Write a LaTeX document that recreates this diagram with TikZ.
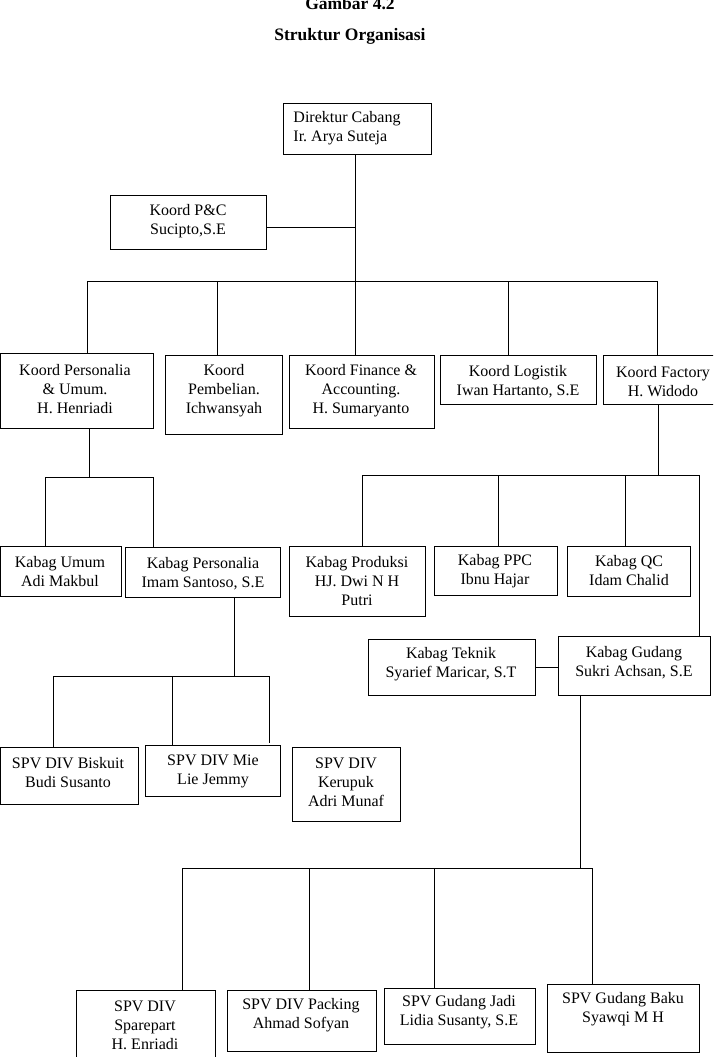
\documentclass[tikz,border=0pt]{standalone}
\usepackage{fontspec}
\setmainfont{Liberation Serif}
\frenchspacing
\newcommand{\orgbox}[8]{%
  \node[boxst, minimum width={#4pt-#2pt}, minimum height={#5pt-#3pt}] (#1) at (#2,#3) {};
  \node[txt] (#1t) at (#6,#7) {#8};}
\begin{document}
\begin{tikzpicture}[x=1pt,y=-1pt, line width=0.9pt,
  boxst/.style={draw, rectangle, inner sep=0pt, outer sep=0pt, anchor=north west},
  txt/.style={align=center, inner sep=0pt, font=\fontsize{16}{19}\selectfont},
  ttl/.style={font=\bfseries\fontsize{17.5}{20}\selectfont, anchor=base, inner sep=0pt}]
\useasboundingbox (0,0) rectangle (713,1057);
\clip (0,0) rectangle (713,1057);
% titles
\node[ttl] (t1) at (350,9.5) {Gambar 4.2};
\node[ttl] (t2) at (350,41) {Struktur Organisasi};
% director
\node[boxst, minimum width=148pt, minimum height=51pt] (dir) at (283,103) {};
\node[txt, align=left, anchor=west] (dirt) at (293,128.5) {Direktur Cabang\\Ir. Arya Suteja};
\orgbox{pc}{110}{195}{266}{249}{188}{221.5}{Koord P\&C\\Sucipto,S.E}
% koord row
\orgbox{kp}{0.6}{353}{153}{428}{75}{389}{Koord Personalia\\\& Umum.\\H. Henriadi}
\orgbox{kpb}{165}{355}{282}{434}{224}{391}{Koord\\Pembelian.\\Ichwansyah}
\orgbox{kf}{289}{355}{434}{428}{361}{391}{Koord Finance \&\\Accounting.\\H. Sumaryanto}
\orgbox{kl}{440}{355}{596}{404}{518}{381.5}{Koord Logistik\\Iwan Hartanto, S.E}
\orgbox{kfa}{603}{355}{722}{404}{663}{381.5}{Koord Factory\\H. Widodo}
% kabag row
\orgbox{ku}{0.6}{546}{121}{596}{60}{571.5}{Kabag Umum\\Adi Makbul}
\orgbox{kbp}{125}{547}{280}{597}{203}{573.5}{Kabag Personalia\\Imam Santoso, S.E}
\orgbox{kpr}{289}{546}{425}{616}{357}{581}{Kabag Produksi\\HJ. Dwi N H\\Putri}
\orgbox{kppc}{434}{546}{557}{595}{495}{571.5}{Kabag PPC\\Ibnu Hajar}
\orgbox{kqc}{567}{546}{690}{596}{629}{571}{Kabag QC\\Idam Chalid}
\orgbox{kt}{368}{639}{535}{695}{451}{664.5}{Kabag Teknik\\Syarief Maricar, S.T}
\orgbox{kg}{558}{636}{710}{695}{634}{662.5}{Kabag Gudang\\Sukri Achsan, S.E}
% spv under personalia
\orgbox{sb}{0.6}{747}{138}{804}{68}{772.5}{SPV DIV Biskuit\\Budi Susanto}
\orgbox{sm}{145}{745}{280}{796}{213}{771.5}{SPV DIV Mie\\Lie Jemmy}
\orgbox{sk}{292}{747}{400}{821}{346}{782}{SPV DIV\\Kerupuk\\Adri Munaf}
% spv under gudang
\orgbox{ss}{76}{990}{215}{1070}{145}{1025}{SPV DIV\\Sparepart\\H. Enriadi}
\orgbox{sp}{227}{990}{376}{1051}{301}{1015.5}{SPV DIV Packing\\Ahmad Sofyan}
\orgbox{sgj}{384}{988}{535}{1044}{459}{1012.5}{SPV Gudang Jadi\\Lidia Susanty, S.E}
\orgbox{sgb}{547}{984}{699}{1052}{623}{1009.5}{SPV Gudang Baku\\Syawqi M H}
% connectors: top
\coordinate (j0) at (355.5,281);
\draw (dir.south -| j0) -- (j0);
\draw ([yshift=-5pt]pc.east) -- ([yshift=-5pt]pc.east -| j0);
\coordinate (b1) at (87,281);
\coordinate (b2) at (217,281);
\coordinate (b4) at (508,281);
\coordinate (b5) at (657.5,281);
\draw (b1) -- (b5);
\draw (b1) -- (b1 |- kp.north);
\draw (b2) -- (b2 |- kpb.north);
\draw (j0) -- (j0 |- kf.north);
\draw (b4) -- (b4 |- kl.north);
\draw (b5) -- (b5 |- kfa.north);
% personalia branch
\coordinate (p0) at (89,477);
\coordinate (p1) at (45,477);
\coordinate (p2) at (153,477);
\draw (kp.south -| p0) -- (p0);
\draw (p1) -- (p2);
\draw (p1) -- (p1 |- ku.north);
\draw (p2) -- (p2 |- kbp.north);
% factory branch
\coordinate (f0) at (658,475);
\coordinate (f1) at (362,475);
\coordinate (f2) at (498,475);
\coordinate (f3) at (625,475);
\coordinate (f4) at (699,475);
\draw (kfa.south -| f0) -- (f0);
\draw (f1) -- (f4);
\draw (f1) -- (f1 |- kpr.north);
\draw (f2) -- (f2 |- kppc.north);
\draw (f3) -- (f3 |- kqc.north);
\draw (f4) -- (f4 |- kg.north);
\draw (kt.east) -- (kt.east -| kg.west);
% kabag personalia branch
\coordinate (q0) at (234,676);
\coordinate (q1) at (53,676);
\coordinate (q2) at (172,676);
\coordinate (q3) at (269,676);
\coordinate (q3e) at (269,743);
\draw (kbp.south -| q0) -- (q0);
\draw (q1) -- (q3);
\draw (q1) -- (q1 |- sb.north);
\draw (q2) -- (q2 |- sm.north);
\draw (q3) -- (q3e);
% gudang branch
\coordinate (g0) at (580,868);
\coordinate (g1) at (182,868);
\coordinate (g2) at (309,868);
\coordinate (g3) at (434,868);
\coordinate (g4) at (592,868);
\draw (kg.south -| g0) -- (g0);
\draw (g1) -- (g4);
\draw (g1) -- (g1 |- ss.north);
\draw (g2) -- (g2 |- sp.north);
\draw (g3) -- (g3 |- sgj.north);
\draw (g4) -- (g4 |- sgb.north);
\end{tikzpicture}
\end{document}
